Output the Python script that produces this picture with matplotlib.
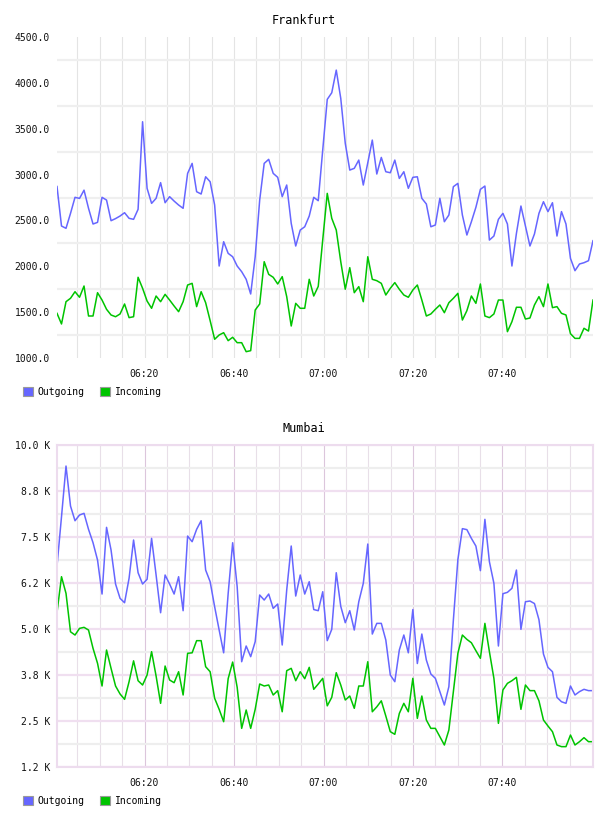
import numpy as np
import pandas as pd
import matplotlib
matplotlib.use("Agg")
import matplotlib.pyplot as plt
import matplotlib.dates as mdates
from matplotlib.patches import Patch

plt.rcParams["font.family"] = ["DejaVu Sans Mono"]

# one sample per ~minute, 06:00 .. 08:00
times = pd.date_range("2024-01-01 06:00:26", "2024-01-01 08:00:14", periods=120)

fra_out = [
    2870, 2439, 2414, 2577, 2752, 2740, 2830, 2632, 2461, 2479,
    2752, 2722, 2497, 2520, 2548, 2584, 2523, 2512, 2621, 3576,
    2850, 2686, 2741, 2912, 2693, 2759, 2711, 2668, 2632, 3013,
    3122, 2813, 2788, 2976, 2922, 2668, 2003, 2268, 2141, 2104,
    2003, 1941, 1858, 1698, 2104, 2722, 3122, 3166, 3013, 2970,
    2759, 2886, 2468, 2221, 2395, 2431, 2548, 2752, 2715, 3270,
    3820, 3892, 4139, 3830, 3340, 3049, 3068, 3158, 2886, 3129,
    3376, 3006, 3187, 3031, 3020, 3158, 2958, 3031, 2850, 2970,
    2976, 2741, 2679, 2431, 2450, 2741, 2486, 2559, 2868, 2904,
    2559, 2341, 2486, 2643, 2839, 2875, 2286, 2330, 2512, 2577,
    2461, 2003, 2359, 2657, 2439, 2221, 2352, 2577, 2704, 2596,
    2693, 2330, 2596, 2461, 2086, 1952, 2025, 2039, 2061, 2279,
]
fra_in = [
    1487, 1371, 1614, 1651, 1723, 1662, 1785, 1458, 1458, 1712,
    1632, 1531, 1469, 1450, 1480, 1589, 1440, 1450, 1880, 1760,
    1621, 1542, 1676, 1614, 1694, 1632, 1567, 1505, 1614, 1796,
    1814, 1560, 1723, 1603, 1407, 1204, 1251, 1276, 1189, 1226,
    1167, 1167, 1069, 1080, 1523, 1589, 2050, 1912, 1880, 1807,
    1887, 1669, 1349, 1596, 1542, 1542, 1858, 1676, 1781, 2290,
    2795, 2523, 2395, 2050, 1750, 1985, 1712, 1778, 1614, 2104,
    1858, 1843, 1814, 1687, 1760, 1822, 1749, 1687, 1662, 1741,
    1796, 1632, 1458, 1480, 1531, 1578, 1494, 1603, 1651, 1705,
    1414, 1516, 1676, 1596, 1807, 1458, 1440, 1480, 1632, 1632,
    1287, 1396, 1553, 1553, 1425, 1436, 1578, 1669, 1560, 1807,
    1549, 1560, 1487, 1469, 1265, 1214, 1214, 1324, 1294, 1632,
]
mum_out = [
    6711, 8051, 9428, 8341, 7942, 8097, 8143, 7708, 7344, 6874,
    5950, 7762, 7146, 6222, 5833, 5714, 6377, 7418, 6529, 6222,
    6350, 7463, 6467, 5442, 6467, 6222, 5950, 6421, 5497, 7526,
    7372, 7708, 7942, 6602, 6285, 5605, 4972, 4353, 5963, 7344,
    6150, 4111, 4538, 4248, 4656, 5923, 5787, 5950, 5561, 5678,
    4565, 6059, 7255, 5896, 6467, 5950, 6285, 5529, 5497, 6013,
    4683, 4991, 6529, 5615, 5171, 5497, 4972, 5741, 6240, 7309,
    4863, 5153, 5153, 4701, 3750, 3568, 4429, 4837, 4353, 5529,
    4062, 4863, 4157, 3777, 3659, 3298, 2934, 3432, 5244, 6885,
    7727, 7700, 7463, 7254, 6585, 7980, 6828, 6240, 4538, 5959,
    5996, 6105, 6602, 4991, 5741, 5760, 5692, 5253, 4320, 3958,
    3839, 3143, 3024, 2980, 3451, 3207, 3298, 3361, 3325, 3325,
]
mum_in = [
    5450, 6421, 5968, 4924, 4836, 5017, 5045, 4972, 4474, 4067,
    3451, 4429, 3931, 3451, 3234, 3089, 3568, 4135, 3595, 3478,
    3750, 4384, 3722, 2980, 3994, 3614, 3541, 3839, 3207, 4339,
    4353, 4683, 4683, 3976, 3839, 3116, 2817, 2481, 3650, 4102,
    3415, 2300, 2799, 2300, 2817, 3505, 3451, 3478, 3207, 3325,
    2751, 3867, 3931, 3595, 3839, 3650, 3958, 3361, 3505, 3659,
    2912, 3143, 3812, 3478, 3071, 3179, 2845, 3451, 3451, 4111,
    2751, 2885, 3048, 2636, 2210, 2138, 2705, 2980, 2751, 3659,
    2572, 3179, 2527, 2300, 2300, 2074, 1848, 2255, 3298, 4339,
    4836, 4718, 4627, 4410, 4203, 5153, 4384, 3659, 2436, 3342,
    3523, 3595, 3686, 2817, 3478, 3325, 3325, 3048, 2527, 2364,
    2210, 1848, 1803, 1803, 2119, 1848, 1938, 2047, 1938, 1938,
]

series_names = ["Outgoing", "Incoming"]
OUT_C = "#6666ff"
IN_C = "#00c400"

major_times = pd.to_datetime(["2024-01-01 06:20", "2024-01-01 06:40", "2024-01-01 07:00",
                              "2024-01-01 07:20", "2024-01-01 07:40"])
minor_times = pd.date_range("2024-01-01 06:05", "2024-01-01 07:55", freq="5min")


def draw_panel(ax, out_vals, in_vals, title, yticks, yminor, fmt, mumbai):
    ax.plot(times, out_vals, color=OUT_C, lw=1.1)
    ax.plot(times, in_vals, color=IN_C, lw=1.1)
    ax.set_xlim(times[0], times[-1])
    ax.set_ylim(yticks[0], yticks[-1])
    ax.set_axisbelow(True)

    ax.set_yticks(yticks)
    ax.set_yticklabels([fmt(v) for v in yticks])
    ax.set_yticks(yminor, minor=True)
    ax.set_xticks(major_times)
    ax.set_xticks(minor_times, minor=True)
    ax.xaxis.set_major_formatter(mdates.DateFormatter("%H:%M"))
    ax.tick_params(which="both", length=0, labelsize=7, colors="#111111")
    ax.tick_params(axis="y", pad=5)
    ax.tick_params(axis="x", pad=8)

    if mumbai:
        ax.grid(axis="y", which="major", color="#f0dff0", lw=1.6)
        ax.grid(axis="y", which="minor", color="#eeeeee", lw=1.6)
        ax.grid(axis="x", which="minor", color="#e8dfe8", lw=0.8)
        ax.grid(axis="x", which="major", color="#dcc6dc", lw=0.8)
        for s in ax.spines.values():
            s.set_color("#eddcee")
            s.set_linewidth(1.5)
    else:
        ax.grid(axis="y", which="minor", color="#efefef", lw=1.6)
        ax.grid(axis="x", which="both", color="#e4e4e4", lw=0.8)
        for s in ax.spines.values():
            s.set_visible(False)

    handles = [Patch(facecolor=OUT_C, edgecolor="#9a9a9a", lw=0.8),
               Patch(facecolor=IN_C, edgecolor="#9a9a9a", lw=0.8)]
    return handles


fig = plt.figure(figsize=(6.08, 8.16), dpi=100)
ax1 = fig.add_axes([57 / 608, 1 - 358 / 816, 536 / 608, 321 / 816])
ax2 = fig.add_axes([57 / 608, 1 - 767 / 816, 536 / 608, 322 / 816])

h = draw_panel(ax1, fra_out, fra_in, "Frankfurt",
               np.arange(1000, 4501, 500), np.arange(1250, 4500, 500),
               lambda v: f"{v:.1f}", False)
draw_panel(ax2, mum_out, mum_in, "Mumbai",
           np.arange(1250, 10001, 1250), np.arange(1875, 10000, 1250),
           lambda v: f"{v / 1000:.1f} K", True)

fig.text(0.5, 1 - 20 / 816, "Frankfurt", ha="center", va="center", fontsize=8.5)
fig.text(0.5, 1 - 428 / 816, "Mumbai", ha="center", va="center", fontsize=8.5)

for ypx in (392, 801):
    fig.legend(h, series_names, loc="center left",
               bbox_to_anchor=(23 / 608, 1 - ypx / 816), bbox_transform=fig.transFigure,
               ncol=2, frameon=False, fontsize=7, handlelength=1.0, handleheight=1.0,
               handletextpad=0.5, columnspacing=1.6, borderpad=0, borderaxespad=0)

fig.savefig("out.png", dpi=100)
